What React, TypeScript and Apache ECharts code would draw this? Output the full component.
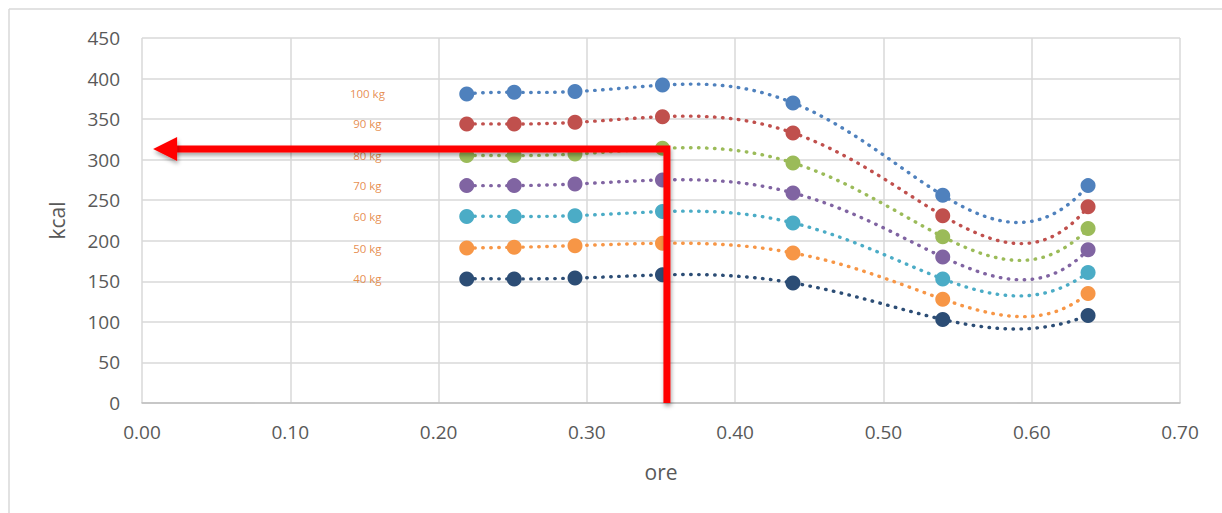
import React, { useEffect, useRef } from "react";
import * as echarts from "echarts";

const oreValues = [0.219, 0.251, 0.292, 0.351, 0.439, 0.54, 0.638];
const seriesNames = ["100 kg", "90 kg", "80 kg", "70 kg", "60 kg", "50 kg", "40 kg"];
const kcal100 = [381, 383, 384, 392, 370, 256, 268];
const kcal90 = [344, 344, 346, 353, 333, 231, 242];
const kcal80 = [305, 305, 307, 314, 296, 205, 215];
const kcal70 = [268, 268, 270, 275, 259, 180, 189];
const kcal60 = [230, 230, 231, 236, 222, 153, 161];
const kcal50 = [191, 192, 194, 197, 185, 128, 135];
const kcal40 = [153, 153, 154, 158, 148, 103, 108];
const seriesColors = ["#4F81BD", "#C0504D", "#9BBB59", "#8064A2", "#4BACC6", "#F79646", "#2C4D75"];
const labelOre = 0.152;
const arrowOre = 0.354;
const arrowKcal = 313;
const arrowTipOre = 0.0075;
const trendOrder = 6;

const allKcal = [kcal100, kcal90, kcal80, kcal70, kcal60, kcal50, kcal40];

// Polynomial trendline (least squares of order 6 on 7 points = exact fit), evaluated in Lagrange form
function polyTrend(xs: number[], ys: number[], x: number): number {
  let sum = 0;
  for (let i = 0; i < xs.length; i++) {
    let term = ys[i];
    for (let j = 0; j < xs.length; j++) {
      if (j !== i) term *= (x - xs[j]) / (xs[i] - xs[j]);
    }
    sum += term;
  }
  return sum;
}

function trendSamples(xs: number[], ys: number[]): number[][] {
  const out: number[][] = [];
  const a = xs[0];
  const b = xs[xs.length - 1];
  const n = 240;
  for (let k = 0; k <= n; k++) {
    const x = a + ((b - a) * k) / n;
    out.push([x, polyTrend(xs, ys, x)]);
  }
  return out;
}

export default function App() {
  const ref = useRef<HTMLDivElement>(null);
  useEffect(() => {
    document.body.style.margin = "0";
    const chart = echarts.init(ref.current!, null, { renderer: "svg" });
    const font = "'Open Sans', sans-serif";
    const trendSeries = allKcal.map((vals, i) => ({
      type: "line",
      name: seriesNames[i] + " trend (poly " + trendOrder + ")",
      data: trendSamples(oreValues, vals),
      showSymbol: false,
      symbol: "none",
      smooth: false,
      lineStyle: { color: seriesColors[i], width: 3.4, type: [0.5, 7.5], cap: "round" },
      z: 2,
    }));
    const markerSeries = allKcal.map((vals, i) => ({
      type: "scatter",
      name: seriesNames[i],
      data: vals.map((v, j) => [oreValues[j], v]),
      symbol: "circle",
      symbolSize: 15,
      itemStyle: { color: seriesColors[i], opacity: 1 },
      z: 3,
    }));
    const labelSeries = {
      type: "scatter",
      name: "labels",
      symbolSize: 0,
      data: allKcal.map((vals, i) => [labelOre, vals[0], seriesNames[i]]),
      label: {
        show: true,
        position: "inside",
        formatter: (p: any) => p.value[2],
        color: "#E0701C",
        fontSize: 11.5,
        fontFamily: font,
      },
      z: 4,
    };
    chart.setOption({
      animation: false,
      grid: { left: 142, right: 42, top: 38, bottom: 110 },
      xAxis: {
        type: "value",
        min: 0,
        max: 0.7,
        interval: 0.1,
        name: "ore",
        nameLocation: "middle",
        nameGap: 58,
        nameTextStyle: { fontSize: 21, color: "#595959", fontFamily: font },
        axisLine: { show: true, lineStyle: { color: "#BFBFBF", width: 1.5 } },
        axisTick: { show: false },
        axisLabel: {
          fontSize: 19,
          color: "#595959",
          fontFamily: font,
          margin: 19,
          formatter: (v: number) => v.toFixed(2),
        },
        splitLine: { show: true, lineStyle: { color: "#D9D9D9", width: 1.5 } },
      },
      yAxis: {
        type: "value",
        min: 0,
        max: 450,
        interval: 50,
        name: "kcal",
        nameLocation: "middle",
        nameGap: 75,
        nameTextStyle: { fontSize: 21, color: "#595959", fontFamily: font },
        axisLine: { show: false },
        axisTick: { show: false },
        axisLabel: { fontSize: 19, color: "#595959", fontFamily: font, margin: 22 },
        splitLine: { show: true, lineStyle: { color: "#D9D9D9", width: 1.5 } },
      },
      series: [...trendSeries, ...markerSeries, labelSeries],
    });
    const corner = chart.convertToPixel({ gridIndex: 0 }, [arrowOre, arrowKcal]) as number[];
    const bottom = chart.convertToPixel({ gridIndex: 0 }, [arrowOre, 0]) as number[];
    const tip = chart.convertToPixel({ gridIndex: 0 }, [arrowTipOre, arrowKcal]) as number[];
    const shadow = { shadowBlur: 4, shadowColor: "rgba(0,0,0,0.35)", shadowOffsetY: 3, shadowOffsetX: 1 };
    chart.setOption({
      graphic: [
        { type: "line", shape: { x1: 9, y1: 9, x2: 1222, y2: 9 }, style: { stroke: "#D9D9D9", lineWidth: 1.5 }, silent: true },
        { type: "line", shape: { x1: 9, y1: 9, x2: 9, y2: 513 }, style: { stroke: "#D9D9D9", lineWidth: 1.5 }, silent: true },
        {
          type: "polyline",
          z: 100,
          shape: { points: [[bottom[0], bottom[1]], [corner[0], corner[1]], [tip[0] + 20, tip[1]]] },
          style: { stroke: "#FF0000", lineWidth: 7, fill: null, lineJoin: "miter", ...shadow },
          silent: true,
        },
        {
          type: "polygon",
          z: 101,
          shape: { points: [[tip[0], tip[1]], [tip[0] + 24, tip[1] - 12], [tip[0] + 24, tip[1] + 12]] },
          style: { fill: "#FF0000", ...shadow },
          silent: true,
        },
      ],
    });
    return () => chart.dispose();
  }, []);
  return <div ref={ref} style={{ width: 1222, height: 513 }} />;
}
